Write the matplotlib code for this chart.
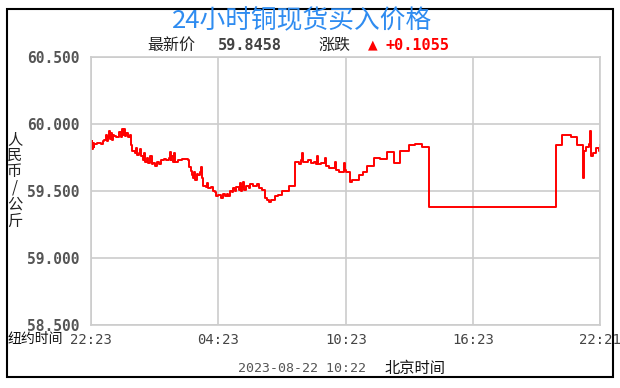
import matplotlib
matplotlib.use("Agg")
import matplotlib.pyplot as plt
from matplotlib.patches import Rectangle

# ---- data ----
hours = [0.00, 0.03, 0.06, 0.09, 0.12, 0.16, 0.30, 0.45, 0.55, 0.63, 0.70, 0.75, 0.79, 0.85, 0.90,
         0.95, 1.00, 1.05, 1.10, 1.20, 1.30, 1.34, 1.40, 1.45, 1.50, 1.55, 1.58, 1.65, 1.75, 1.85,
         1.89, 1.95, 2.05, 2.10, 2.15, 2.25, 2.30, 2.37, 2.45, 2.50, 2.55, 2.65, 2.70, 2.80, 2.85,
         2.92, 3.00, 3.10, 3.20, 3.32, 3.45, 3.55, 3.65, 3.70, 3.75, 3.79, 3.85, 3.90, 3.95, 4.10,
         4.30, 4.58, 4.62, 4.70, 4.74, 4.80, 4.85, 4.90, 4.97, 5.05, 5.15, 5.20, 5.23, 5.29, 5.40,
         5.45, 5.53, 5.65, 5.75, 5.84, 5.90, 6.00, 6.10, 6.20, 6.30, 6.40, 6.47, 6.55, 6.65, 6.70,
         6.79, 6.85, 6.95, 7.00, 7.05, 7.10, 7.15, 7.20, 7.30, 7.42, 7.50, 7.65, 7.80, 7.90, 8.05,
         8.21, 8.30, 8.37, 8.50, 8.68, 8.80, 9.00, 9.32, 9.63, 9.70, 9.80, 9.90, 9.95, 10.00, 10.20,
         10.35, 10.50, 10.58, 10.65, 10.70, 10.85, 11.00, 11.05, 11.21, 11.35, 11.50, 11.55, 11.68,
         11.84, 11.90, 11.95, 12.00, 12.20, 12.28, 12.60, 12.83, 12.99, 13.31, 13.62, 13.94, 14.25,
         14.57, 14.96, 15.28, 15.59, 15.90, 21.89, 22.20, 22.60, 22.91, 23.15, 23.17, 23.20, 23.30,
         23.47, 23.52, 23.55, 23.65, 23.78, 23.90, 23.97]
prices = [59.84, 59.87, 59.81, 59.86, 59.83, 59.85, 59.86, 59.85, 59.87, 59.88, 59.92, 59.87, 59.90, 59.95, 59.89,
          59.93, 59.88, 59.92, 59.91, 59.90, 59.91, 59.94, 59.90, 59.96, 59.92, 59.96, 59.91, 59.93, 59.90, 59.92,
          59.84, 59.80, 59.78, 59.82, 59.77, 59.78, 59.81, 59.76, 59.73, 59.78, 59.72, 59.75, 59.71, 59.76, 59.70,
          59.71, 59.69, 59.72, 59.70, 59.73, 59.74, 59.73, 59.75, 59.79, 59.73, 59.76, 59.72, 59.78, 59.72, 59.73,
          59.74, 59.73, 59.68, 59.65, 59.62, 59.60, 59.64, 59.58, 59.63, 59.62, 59.64, 59.68, 59.60, 59.54, 59.53,
          59.56, 59.52, 59.53, 59.50, 59.49, 59.46, 59.47, 59.45, 59.48, 59.46, 59.48, 59.46, 59.50, 59.49, 59.52,
          59.50, 59.53, 59.51, 59.56, 59.50, 59.53, 59.57, 59.51, 59.54, 59.52, 59.55, 59.54, 59.55, 59.52, 59.51,
          59.45, 59.43, 59.42, 59.43, 59.46, 59.47, 59.50, 59.54, 59.72, 59.72, 59.70, 59.73, 59.78, 59.72, 59.73,
          59.71, 59.72, 59.70, 59.76, 59.70, 59.71, 59.75, 59.69, 59.67, 59.67, 59.72, 59.66, 59.64,
          59.64, 59.71, 59.66, 59.64, 59.57, 59.58, 59.62, 59.64, 59.69, 59.75, 59.74, 59.79, 59.71,
          59.80, 59.84, 59.85, 59.83, 59.38, 59.84, 59.92, 59.90, 59.84, 59.84, 59.60, 59.80, 59.83,
          59.85, 59.95, 59.76, 59.78, 59.82, 59.80, 59.8458]
tick_hours = [0, 6, 12, 18, 23.97]
tick_labels = ["22:23", "04:23", "10:23", "16:23", "22:21"]
y_ticks = [58.5, 59.0, 59.5, 60.0, 60.5]
y_labels = ["58.500", "59.000", "59.500", "60.000", "60.500"]
title = "24小时铜现货买入价格"
latest_label = "最新价"
latest_value = "59.8458"
change_label = "涨跌"
change_value = "+0.1055"
ylabel = "人民币/公斤"
date_text = "2023-08-22 10:22"

W, H = 620, 388
fig = plt.figure(figsize=(W / 100, H / 100), dpi=100)
fig.patch.set_facecolor("white")

def fx(px):
    return px / W

def fy(py):
    return 1 - py / H

cjk = ["Noto Sans CJK SC", "DejaVu Sans"]
mono = ["DejaVu Sans Mono"]

# outer frame
fig.patches.append(Rectangle((fx(7), fy(377)), fx(613) - fx(7), fy(9) - fy(377),
                             transform=fig.transFigure, fill=False, edgecolor="black", linewidth=1.5))

ax = fig.add_axes([fx(91), fy(325), fx(600) - fx(91), fy(57) - fy(325)])
ax.plot(hours, prices, drawstyle="steps-post", color="#ff0000", linewidth=1.4)
ax.set_xlim(0, 23.97)
ax.set_ylim(58.5, 60.5)
ax.set_xticks(tick_hours)
ax.set_xticklabels(tick_labels, family=mono, fontsize=10, color="#444444")
ax.set_yticks(y_ticks)
ax.set_yticklabels(y_labels, family=mono, fontsize=10.5, fontweight="bold", color="#555555")
ax.tick_params(axis="both", length=0)
ax.tick_params(axis="x", pad=6)
ax.tick_params(axis="y", pad=8)
ax.grid(True, color="#cccccc", linewidth=1.2)
ax.set_axisbelow(True)
for s in ax.spines.values():
    s.set_color("#cccccc")
    s.set_linewidth(1.2)

# title & info line
fig.text(fx(302), fy(21), title, family=cjk, fontsize=18.5, color="#2f8cf0",
         ha="center", va="center")
fig.text(fx(147), fy(45), latest_label, family=cjk, fontsize=11.5, color="#222222",
         ha="left", va="center")
fig.text(fx(218), fy(45), latest_value, family=mono, fontsize=11, fontweight="bold",
         color="#444444", ha="left", va="center")
fig.text(fx(318), fy(45), change_label, family=cjk, fontsize=11.5, color="#222222",
         ha="left", va="center")
fig.text(fx(373), fy(45), "▲", family=["DejaVu Sans"], fontsize=9, color="#ff0000",
         ha="center", va="center")
fig.text(fx(385), fy(45), change_value, family=mono, fontsize=11, fontweight="bold",
         color="#ff0000", ha="left", va="center")

# y label stacked vertically
fig.text(fx(15), fy(180), "\n".join(ylabel), family=cjk, fontsize=11, color="#222222",
         ha="center", va="center", linespacing=0.95)

# x-axis prefix and footer
fig.text(fx(63), fy(339), "纽约时间", family=cjk, fontsize=10, color="#111111",
         ha="right", va="center")
fig.text(fx(302), fy(368), date_text, family=mono, fontsize=9.5, color="#555555",
         ha="center", va="center")
fig.text(fx(385), fy(368), "北京时间", family=cjk, fontsize=11, color="#111111",
         ha="left", va="center")

fig.savefig("out.png", dpi=100, facecolor="white")
